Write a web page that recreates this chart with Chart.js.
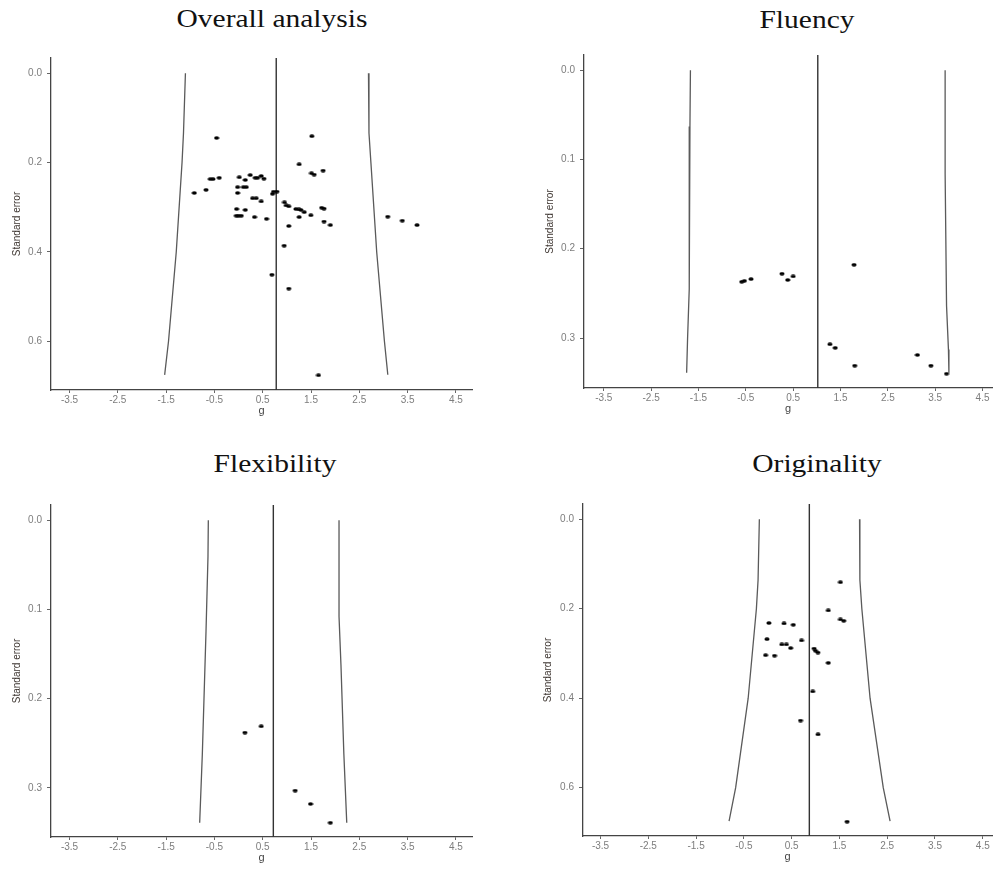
<!DOCTYPE html>
<html>
<head>
<meta charset="utf-8">
<script src="https://cdn.jsdelivr.net/npm/chart.js@4.4.1/dist/chart.umd.min.js"></script>
<style>
  html, body { margin: 0; padding: 0; background: #fff; }
  #page { position: relative; width: 996px; height: 869px; overflow: hidden; }
  .panel { position: absolute; }
  .ttl { position: absolute; width: 300px; text-align: center; font-family: "Liberation Serif", "Times New Roman", serif;
         font-size: 25px; line-height: 25px; color: #111; transform: scaleX(1.18); white-space: nowrap; }
</style>
</head>
<body>
<div id="page">
  <div class="ttl" style="left:122px; top:6px;">Overall analysis</div>
  <div class="ttl" style="left:657px; top:7px;">Fluency</div>
  <div class="ttl" style="left:125px; top:451px;">Flexibility</div>
  <div class="ttl" style="left:667px; top:451px;">Originality</div>
  <div class="panel" style="left:0; top:0; width:498px; height:420px;"><canvas id="c1"></canvas></div>
  <div class="panel" style="left:530px; top:0; width:466px; height:420px;"><canvas id="c2"></canvas></div>
  <div class="panel" style="left:0; top:420px; width:498px; height:449px;"><canvas id="c3"></canvas></div>
  <div class="panel" style="left:530px; top:420px; width:466px; height:449px;"><canvas id="c4"></canvas></div>
</div>
<script>
// tick labels
const xTicks = [-3.5, -2.5, -1.5, -0.5, 0.5, 1.5, 2.5, 3.5, 4.5];
const yTicksWide = [0.0, 0.2, 0.4, 0.6];
const yTicksNarrow = [0.0, 0.1, 0.2, 0.3];

// Overall analysis
const overallG = [-0.455, 1.517, 1.255, 1.75, 1.51, 1.565, -0.585, -0.53, -0.40, 0.015, 0.139, 0.242, 0.345, 0.393,
  0.469, 0.525, -0.916, -0.674, -0.02, 0.10, 0.16, -0.02, 0.724, 0.794, 0.703, 0.29, 0.366, 0.469, 0.951, 0.986,
  1.04, 1.187, 1.25, 1.29, 1.36, 1.497, 1.255, 1.72, 1.77, -0.04, 0.139, -0.047, 0.0, 0.056, 0.331, 0.579, 1.77,
  1.90, 1.04, 3.088, 3.39, 3.695, 0.944, 0.69, 1.04, 1.655];
const overallSE = [0.145, 0.141, 0.204, 0.218, 0.224, 0.227, 0.237, 0.237, 0.234, 0.233, 0.239, 0.228, 0.234, 0.234,
  0.230, 0.236, 0.268, 0.261, 0.255, 0.255, 0.255, 0.268, 0.265, 0.265, 0.270, 0.280, 0.280, 0.287, 0.289, 0.296,
  0.298, 0.304, 0.305, 0.306, 0.311, 0.318, 0.322, 0.301, 0.303, 0.304, 0.306, 0.319, 0.319, 0.319, 0.322, 0.326, 0.332,
  0.340, 0.342, 0.321, 0.330, 0.340, 0.386, 0.451, 0.482, 0.676];
const overallEst = 0.78;
const overallLeftSE = [0, 0.134, 0.2, 0.4, 0.6, 0.675];
const overallLeftG = [-1.10, -1.14, -1.17, -1.29, -1.45, -1.53];
const overallRightSE = [0, 0.134, 0.2, 0.4, 0.6, 0.675];
const overallRightG = [2.69, 2.70, 2.74, 2.86, 3.02, 3.09];

// Fluency
const fluencyG = [-0.586, -0.53, -0.39, 0.264, 0.385, 0.50, 1.786, 1.276, 1.389, 1.80, 3.125, 3.41, 3.74];
const fluencySE = [0.237, 0.236, 0.234, 0.228, 0.235, 0.231, 0.218, 0.307, 0.311, 0.331, 0.319, 0.331, 0.340];
const fluencyEst = 1.02;
const fluencyLeftSE = [0, 0.063, 0.18, 0.245, 0.30, 0.339];
const fluencyLeftG = [-1.67, -1.68, -1.69, -1.70, -1.73, -1.75];
const fluencyRightSE = [0, 0.116, 0.264, 0.313, 0.339];
const fluencyRightG = [3.71, 3.71, 3.74, 3.78, 3.79];

// Flexibility
const flexG = [0.132, 0.469, 1.172, 1.49, 1.90];
const flexSE = [0.238, 0.231, 0.303, 0.318, 0.339];
const flexEst = 0.72;
const flexLeftSE = [0, 0.041, 0.125, 0.262, 0.339];
const flexLeftG = [-0.626, -0.633, -0.674, -0.75, -0.805];
const flexRightSE = [0, 0.108, 0.162, 0.262, 0.339];
const flexRightG = [2.08, 2.08, 2.12, 2.18, 2.24];

// Originality
const origG = [1.52, 1.266, 1.52, 1.59, 0.024, 0.341, 0.534, -0.017, 0.707, 0.293, 0.39, 0.479, 0.97, 1.0, 1.05,
  -0.045, 0.141, 1.266, 0.941, 0.686, 1.052, 1.66];
const origSE = [0.141, 0.204, 0.224, 0.227, 0.232, 0.233, 0.236, 0.268, 0.271, 0.280, 0.280, 0.288, 0.289, 0.294, 0.298,
  0.304, 0.305, 0.321, 0.385, 0.450, 0.481, 0.676];
const origEst = 0.87;
const origLeftSE = [0, 0.136, 0.2, 0.4, 0.6, 0.675];
const origLeftG = [-0.176, -0.203, -0.238, -0.41, -0.672, -0.81];
const origRightSE = [0, 0.136, 0.2, 0.4, 0.6, 0.675];
const origRightG = [1.921, 1.928, 1.969, 2.141, 2.417, 2.56];

// small elliptical dot (the source picture is a bit stretched sideways)
const dot = document.createElement('canvas');
dot.width = 6; dot.height = 4;
const dctx = dot.getContext('2d');
dctx.fillStyle = '#000';
dctx.beginPath();
dctx.ellipse(3, 2, 2.6, 1.8, 0, 0, Math.PI * 2);
dctx.fill();

const toXY = (xs, ys) => xs.map((x, i) => ({ x: x, y: ys[i] }));
const sans = 'Liberation Sans, Arial, sans-serif';

function funnelPlot(id, p) {
  const ctx = document.getElementById(id).getContext('2d');
  const edge = { showLine: true, pointRadius: 0, borderColor: '#5a5a5a', borderWidth: 1.3, fill: false, tension: 0 };
  return new Chart(ctx, {
    type: 'scatter',
    data: {
      datasets: [
        { data: toXY(p.g, p.se), pointStyle: dot, pointRadius: 3, backgroundColor: '#000', borderWidth: 0 },
        Object.assign({ data: toXY(p.leftG, p.leftSE) }, edge),
        Object.assign({ data: toXY(p.rightG, p.rightSE) }, edge),
        { data: [{ x: p.est, y: p.yMin }, { x: p.est, y: p.yMax }], showLine: true, pointRadius: 0,
          borderColor: '#333', borderWidth: 1.4 }
      ]
    },
    options: {
      responsive: true,
      maintainAspectRatio: false,
      animation: false,
      events: [],
      layout: { padding: p.pad },
      plugins: { legend: { display: false }, tooltip: { enabled: false } },
      scales: {
        x: {
          type: 'linear',
          min: p.xMin, max: p.xMax,
          afterBuildTicks: s => { s.ticks = xTicks.map(v => ({ value: v })); },
          afterFit: s => { s.height = 30; },
          ticks: {
            autoSkip: false, maxRotation: 0, padding: 1, color: '#7d7d7d',
            font: { family: sans, size: 10 },
            callback: v => Number(v).toFixed(1)
          },
          grid: { display: true, drawOnChartArea: false, drawTicks: true, tickLength: 3, color: '#666' },
          border: { display: true, color: '#444', width: 1.3 },
          title: { display: true, text: 'g', color: '#444', padding: { top: 0, bottom: 2 },
                   font: { family: sans, size: 11 } }
        },
        y: {
          type: 'linear',
          reverse: true,
          min: p.yMin, max: p.yMax,
          afterBuildTicks: s => { s.ticks = p.yTicks.map(v => ({ value: v })); },
          afterFit: s => { s.width = p.yW; },
          ticks: {
            autoSkip: false, padding: 5, color: '#7d7d7d',
            font: { family: sans, size: 10 },
            callback: v => Number(v).toFixed(1)
          },
          grid: { display: true, drawOnChartArea: false, drawTicks: true, tickLength: 4, color: '#666' },
          border: { display: true, color: '#444', width: 1.3 },
          title: { display: true, text: 'Standard error', color: '#3d3530', padding: { top: p.titlePad, bottom: 0 },
                   font: { family: sans, size: 10 } }
        }
      }
    }
  });
}

funnelPlot('c1', {
  g: overallG, se: overallSE, est: overallEst,
  leftG: overallLeftG, leftSE: overallLeftSE, rightG: overallRightG, rightSE: overallRightSE,
  xMin: -3.883, xMax: 4.833, yMin: -0.034, yMax: 0.709, yTicks: yTicksWide,
  yW: 51, titlePad: 11, pad: { left: 0, top: 58, right: 26, bottom: 0 }
});
funnelPlot('c2', {
  g: fluencyG, se: fluencySE, est: fluencyEst,
  leftG: fluencyLeftG, leftSE: fluencyLeftSE, rightG: fluencyRightG, rightSE: fluencyRightSE,
  xMin: -3.918, xMax: 4.70, yMin: -0.017, yMax: 0.356, yTicks: yTicksNarrow,
  yW: 54, titlePad: 14, pad: { left: 0, top: 55, right: 0, bottom: 2 }
});
funnelPlot('c3', {
  g: flexG, se: flexSE, est: flexEst,
  leftG: flexLeftG, leftSE: flexLeftSE, rightG: flexRightG, rightSE: flexRightSE,
  xMin: -3.883, xMax: 4.833, yMin: -0.017, yMax: 0.355, yTicks: yTicksNarrow,
  yW: 51, titlePad: 11, pad: { left: 0, top: 85, right: 26, bottom: 2 }
});
funnelPlot('c4', {
  g: origG, se: origSE, est: origEst,
  leftG: origLeftG, leftSE: origLeftSE, rightG: origRightG, rightSE: origRightSE,
  xMin: -3.867, xMax: 4.693, yMin: -0.034, yMax: 0.708, yTicks: yTicksWide,
  yW: 53, titlePad: 12, pad: { left: 0, top: 84, right: 0, bottom: 3 }
});
</script>
</body>
</html>
